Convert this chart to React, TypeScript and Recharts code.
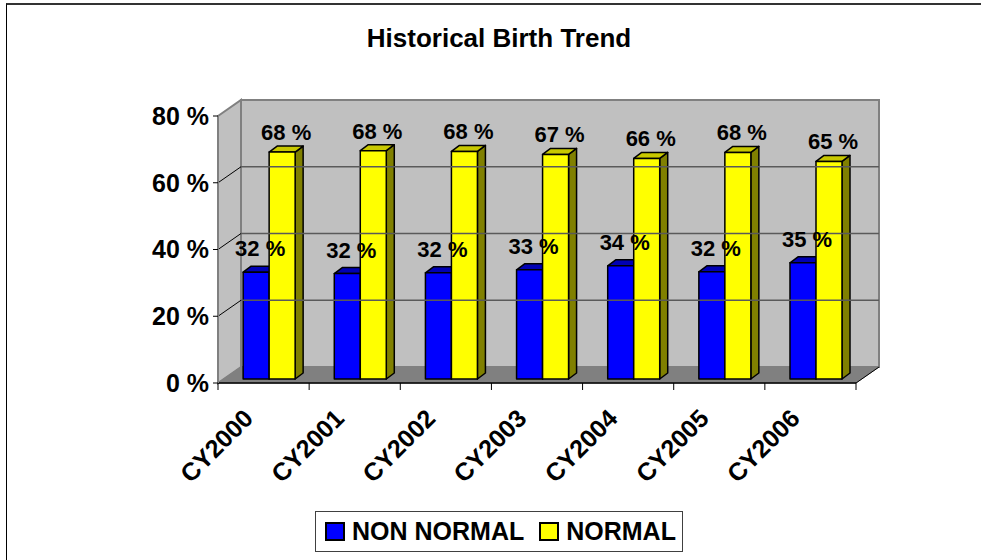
import React from "react";
import { BarChart, Bar, XAxis, YAxis, ReferenceArea, ReferenceLine, Legend, LabelList } from "recharts";

const years = ["CY2000", "CY2001", "CY2002", "CY2003", "CY2004", "CY2005", "CY2006"];
const nonNormal = [32.0, 31.6, 31.8, 32.7, 33.9, 32.1, 34.8];
const normal = [68.0, 68.4, 68.2, 67.3, 66.1, 67.9, 65.2];
const yTicks = [0, 20, 40, 60, 80];
const gridValues = [20, 40, 60];

const data = years.map((year, i) => ({ year, nonNormal: nonNormal[i], normal: normal[i] }));

const FONT = '"Liberation Sans", Arial, sans-serif';

// 3d look: wall depth, and where the bars sit inside it
const DX = 23;
const DY = 16;
const SX = 6;
const SY = 4;
const BDX = 8;
const BDY = 6;

function Walls(props: any) {
  const { x, y, width, height } = props;
  const b = y + height;
  return (
    <g>
      <polygon
        points={`${x},${y} ${x + DX},${y - DY} ${x + DX},${b - DY} ${x},${b}`}
        fill="#c0c0c0"
        stroke="#808080"
        strokeWidth={2}
      />
      <rect x={x + DX} y={y - DY} width={width} height={height} fill="#c0c0c0" stroke="#808080" strokeWidth={2} />
      <polygon
        points={`${x},${b} ${x + DX},${b - DY} ${x + width + DX},${b - DY} ${x + width},${b}`}
        fill="#808080"
        stroke="#808080"
      />
      <line x1={x + width} y1={b} x2={x + width + DX} y2={b - DY} stroke="#000" />
    </g>
  );
}

function GridLine(props: any) {
  const { x1, y1, x2, y2 } = props;
  return (
    <g>
      <line x1={x1} y1={y1} x2={x1 + DX} y2={y1 - DY} stroke="#000" />
      <line x1={x1 + DX} y1={y1 - DY} x2={x2 + DX} y2={y2 - DY} stroke="#5a5a5a" strokeWidth={1.5} />
    </g>
  );
}

function makeBar(front: string, top: string, side: string) {
  return (props: any) => {
    const { x, y, width, height } = props;
    if (height == null || height <= 0) return <g />;
    const fx = x + SX;
    const fy = y - SY;
    const fb = fy + height;
    return (
      <g stroke="#000" strokeWidth={1.5} strokeLinejoin="round">
        <polygon
          points={`${fx + width},${fy} ${fx + width + BDX},${fy - BDY} ${fx + width + BDX},${fb - BDY} ${fx + width},${fb}`}
          fill={side}
        />
        <polygon
          points={`${fx},${fy} ${fx + BDX},${fy - BDY} ${fx + width + BDX},${fy - BDY} ${fx + width},${fy}`}
          fill={top}
        />
        <rect x={fx} y={fy} width={width} height={height} fill={front} />
      </g>
    );
  };
}

function makeLabel(lift: number) {
  return (props: any) => {
    const { x, y, width, value } = props;
    return (
      <text
        x={x + width / 2 + SX + 4}
        y={y - SY - lift}
        textAnchor="middle"
        fontFamily={FONT}
        fontWeight="bold"
        fontSize={22}
        fill="#000"
      >
        {`${Math.round(value)} %`}
      </text>
    );
  };
}

function CategoryTick(props: any) {
  const { x, y, payload, index } = props;
  const half = payload && payload.offset ? payload.offset : 45.6;
  const tx = x - 9;
  const ty = y + 37;
  return (
    <g>
      <line x1={x - half} y1={y} x2={x - half} y2={y + 7} stroke="#000" />
      {index === years.length - 1 && <line x1={x + half} y1={y} x2={x + half} y2={y + 7} stroke="#000" />}
      <text
        x={tx}
        y={ty}
        textAnchor="end"
        transform={`rotate(-45 ${tx} ${ty})`}
        fontFamily={FONT}
        fontWeight="bold"
        fontSize={25}
        fill="#000"
      >
        {payload.value}
      </text>
    </g>
  );
}

function LegendBox(props: any) {
  const { payload } = props;
  return (
    <div
      style={{
        boxSizing: "border-box",
        width: 368,
        height: 41,
        border: "1px solid #404040",
        background: "#fff",
        display: "flex",
        alignItems: "center",
        paddingLeft: 9,
        fontFamily: FONT,
        fontWeight: "bold",
        fontSize: 25,
        lineHeight: "25px",
        color: "#000",
        whiteSpace: "nowrap",
      }}
    >
      {(payload || []).map((entry: any) => (
        <div key={entry.value} style={{ display: "flex", alignItems: "center", marginRight: 15, flexShrink: 0 }}>
          <span
            style={{
              display: "inline-block",
              boxSizing: "border-box",
              width: 20,
              height: 19,
              background: entry.color,
              border: "2px solid #000",
              marginRight: 7,
              flexShrink: 0,
            }}
          />
          <span>{entry.value}</span>
        </div>
      ))}
    </div>
  );
}

export default function App() {
  return (
    <div style={{ position: "absolute", left: 0, top: 0, width: 981, height: 560, background: "#fff", overflow: "hidden" }}>
      <div
        style={{
          position: "absolute",
          left: 6,
          top: 3,
          width: 1200,
          height: 800,
          borderLeft: "1px solid #000",
          borderTop: "2px solid #333",
        }}
      />
      <div
        style={{
          position: "absolute",
          left: 0,
          top: 25,
          width: 998,
          textAlign: "center",
          fontFamily: FONT,
          fontWeight: "bold",
          fontSize: 26,
          lineHeight: "26px",
          color: "#000",
        }}
      >
        Historical Birth Trend
      </div>
      <BarChart
        width={981}
        height={560}
        data={data}
        margin={{ top: 116, right: 125, bottom: 117, left: 0 }}
        barCategoryGap="21%"
        barGap={0}
        style={{ position: "absolute", left: 0, top: 0 }}
      >
        <ReferenceArea y1={0} y2={80} shape={Walls} ifOverflow="visible" />
        {gridValues.map((v) => (
          <ReferenceLine key={v} y={v} shape={GridLine} ifOverflow="visible" />
        ))}
        <XAxis
          dataKey="year"
          interval={0}
          height={60}
          tickSize={0}
          tickMargin={0}
          axisLine={{ stroke: "#000", strokeWidth: 1.5 }}
          tickLine={false}
          tick={CategoryTick}
        />
        <YAxis
          width={218}
          domain={[0, 80]}
          ticks={yTicks}
          tickFormatter={(v: number) => `${v} %`}
          axisLine={{ stroke: "#808080", strokeWidth: 2 }}
          tickLine={{ stroke: "#000" }}
          tickSize={5}
          tickMargin={4}
          tick={{ fill: "#000", fontFamily: FONT, fontWeight: "bold", fontSize: 25 }}
        />
        <Legend
          layout="horizontal"
          verticalAlign="middle"
          align="center"
          wrapperStyle={{ left: 315, top: 511, width: 368, height: 41 }}
          content={LegendBox}
        />
        <Bar dataKey="nonNormal" name="NON NORMAL" fill="#0000ff" shape={makeBar("#0000ff", "#0000b4", "#000080")} isAnimationActive={false}>
          <LabelList dataKey="nonNormal" content={makeLabel(16)} />
        </Bar>
        <Bar dataKey="normal" name="NORMAL" fill="#ffff00" shape={makeBar("#ffff00", "#c8c800", "#808000")} isAnimationActive={false}>
          <LabelList dataKey="normal" content={makeLabel(12)} />
        </Bar>
      </BarChart>
    </div>
  );
}
